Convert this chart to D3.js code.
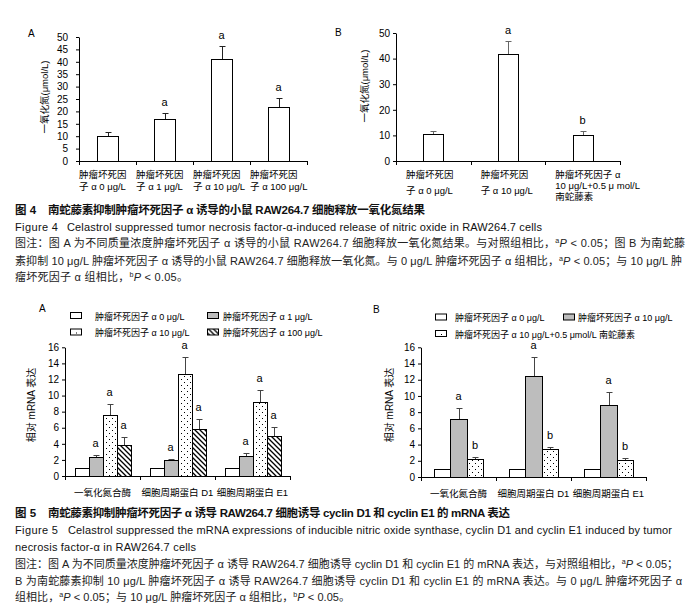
<!DOCTYPE html>
<html><head><meta charset="utf-8">
<script src="https://cdn.jsdelivr.net/npm/d3@7"></script>
<style>
body{margin:0;background:#fff}
svg{display:block}
text{font-family:"Liberation Sans","Noto Sans CJK SC",Arial,sans-serif}
</style>
</head><body>
<svg id="c" width="695" height="614"></svg>
<script>
// ---------------- DATA ----------------
const fig4aCategories = [["肿瘤坏死因","子 α 0 μg/L"],["肿瘤坏死因","子 α 1 μg/L"],["肿瘤坏死因","子 α 10 μg/L"],["肿瘤坏死因","子 α 100 μg/L"]];
const fig4aValues = [10.1, 16.9, 41.1, 21.7];
const fig4aErrors = [1.7, 2.4, 5.4, 3.6];
const fig4aSig = ["", "a", "a", "a"];
const fig4aTicks = [0, 5, 10, 15, 20, 25, 30, 35, 40, 45, 50];

const fig4bCategories = [["肿瘤坏死因","子 α 0 μg/L"],["肿瘤坏死因","子 α 10 μg/L"],["肿瘤坏死因子 α","10 μg/L+0.5  μ mol/L","南蛇藤素"]];
const fig4bValues = [10.4, 41.7, 10.0];
const fig4bErrors = [1.5, 5.2, 1.9];
const fig4bSig = ["", "a", "b"];
const fig4bTicks = [0, 10, 20, 30, 40, 50];

const yLabelNO = "一氧化氮(μmol/L)";
const yLabelMRNA = "相对 mRNA 表达";

const fig5Groups = ["一氧化氮合酶", "细胞周期蛋白 D1", "细胞周期蛋白 E1"];
const fig5Ticks = [0, 2, 4, 6, 8, 10, 12, 14, 16];

const fig5aSeries = ["肿瘤坏死因子 α 0 μg/L", "肿瘤坏死因子 α 1 μg/L", "肿瘤坏死因子 α 10 μg/L", "肿瘤坏死因子 α 100 μg/L"];
const fig5aValues = [[1, 1, 1], [2.4, 2.0, 2.5], [7.6, 12.7, 9.15], [3.85, 5.85, 4.95]];
const fig5aErrors = [[0, 0, 0], [0.25, 0.15, 0.3], [1.3, 2.1, 1.6], [0.95, 1.25, 1.15]];
const fig5aSig = [["", "", ""], ["a", "a", "a"], ["a", "a", "a"], ["a", "a", "a"]];

const fig5bSeries = ["肿瘤坏死因子 α 0 μg/L", "肿瘤坏死因子 α 10 μg/L", "肿瘤坏死因子 α 10 μg/L+0.5 μmol/L 南蛇藤素"];
const fig5bValues = [[1, 1, 1], [7.1, 12.5, 8.9], [2.27, 3.5, 2.1]];
const fig5bErrors = [[0, 0, 0], [1.4, 2.3, 1.55], [0.25, 0.25, 0.3]];
const fig5bSig = [["", "", ""], ["a", "a", "a"], ["b", "b", "b"]];

// caption texts: segments [text, kind]  kind: "" normal, "sup" superscript, "it" italic
const fig4Title = ["图 4", "南蛇藤素抑制肿瘤坏死因子 α 诱导的小鼠 RAW264.7 细胞释放一氧化氮结果"];
const fig4English = ["Figure 4", "Celastrol suppressed tumor necrosis factor-α-induced release of nitric oxide in RAW264.7 cells"];
const fig4Notes = [
  [["图注：图 A 为不同质量浓度肿瘤坏死因子 α 诱导的小鼠 RAW264.7 细胞释放一氧化氮结果。与对照组相比，",""],["a","sup"],["P","it"],[" < 0.05；图 B 为南蛇藤",""]],
  [["素抑制 10 μg/L 肿瘤坏死因子 α 诱导的小鼠 RAW264.7 细胞释放一氧化氮。与 0 μg/L 肿瘤坏死因子 α 组相比，",""],["a","sup"],["P","it"],[" < 0.05；与 10 μg/L 肿",""]],
  [["瘤坏死因子 α 组相比，",""],["b","sup"],["P","it"],[" < 0.05。",""]]
];
const fig5Title = ["图 5", "南蛇藤素抑制肿瘤坏死因子 α 诱导 RAW264.7 细胞诱导 cyclin D1 和 cyclin E1 的 mRNA 表达"];
const fig5English = ["Figure 5", "Celastrol suppressed the mRNA expressions of inducible nitric oxide synthase, cyclin D1 and cyclin E1 induced by tumor", "necrosis factor-α in RAW264.7 cells"];
const fig5Notes = [
  [["图注：图 A 为不同质量浓度肿瘤坏死因子 α 诱导 RAW264.7 细胞诱导 cyclin D1 和 cyclin E1 的 mRNA 表达，与对照组相比，",""],["a","sup"],["P","it"],[" < 0.05；",""]],
  [["B 为南蛇藤素抑制 10 μg/L 肿瘤坏死因子 α 诱导 RAW264.7 细胞诱导 cyclin D1 和 cyclin E1 的 mRNA 表达。与 0 μg/L 肿瘤坏死因子 α",""]],
  [["组相比，",""],["a","sup"],["P","it"],[" < 0.05；与 10 μg/L 肿瘤坏死因子 α 组相比，",""],["b","sup"],["P","it"],[" < 0.05。",""]]
];

// ---------------- DRAWING ----------------
const svg = d3.select("#c");
const defs = svg.append("defs");
const dots = defs.append("pattern").attr("id","dots").attr("patternUnits","userSpaceOnUse").attr("width",6).attr("height",6);
dots.append("rect").attr("width",6).attr("height",6).attr("fill","#fff");
dots.append("rect").attr("x",1).attr("y",1).attr("width",1).attr("height",1).attr("fill","#000");
dots.append("rect").attr("x",4).attr("y",4).attr("width",1).attr("height",1).attr("fill","#000");
const hatch = defs.append("pattern").attr("id","hatch").attr("patternUnits","userSpaceOnUse").attr("width",5).attr("height",5);
hatch.append("rect").attr("width",5).attr("height",5).attr("fill","#fff");
hatch.append("path").attr("d","M-1,-1L6,6M-1,4L1,6M4,-1L6,1").attr("stroke","#000").attr("stroke-width",1.3);

const FF = '"Liberation Sans","Noto Sans CJK SC",Arial,sans-serif';

function yAxis(g, y, x0, ticks, tickSize, tickPad) {
  const ax = g.append("g").attr("transform",`translate(${x0},0)`)
    .call(d3.axisLeft(y).tickValues(ticks).tickSize(tickSize).tickPadding(tickPad).tickSizeOuter(0));
  ax.attr("font-family", FF).attr("font-size", 10);
  ax.selectAll("path,line").attr("stroke","#000");
  ax.selectAll("text").attr("fill","#000");
}

function xAxisLine(g, xb, n, y0) {
  const r = xb.range();
  g.append("line").attr("x1", r[0]).attr("x2", r[1]).attr("y1", y0 + 0.5).attr("y2", y0 + 0.5).attr("stroke","#000");
  const b = d3.range(n + 1).map(i => r[0] + i * xb.step());
  g.selectAll(null).data(b).enter().append("line")
    .attr("x1", d => Math.round(d) + 0.5).attr("x2", d => Math.round(d) + 0.5)
    .attr("y1", y0).attr("y2", y0 + 4).attr("stroke","#000");
}

function yLabel(g, text, x, y, size) {
  g.append("text").attr("transform", `translate(${x},${y}) rotate(-90)`)
    .attr("text-anchor","middle").attr("font-size", size).attr("fill","#000").text(text);
}

function errBar(g, cx, yTop, yErr, color) {
  g.append("line").attr("x1", cx).attr("x2", cx).attr("y1", yTop).attr("y2", yErr).attr("stroke", color);
  g.append("line").attr("x1", cx - 3).attr("x2", cx + 3).attr("y1", yErr + 0.5).attr("y2", yErr + 0.5).attr("stroke", color);
}

function simplePanel(cfg) {
  const g = svg.append("g");
  const y = d3.scaleLinear().domain([0, cfg.max]).range([cfg.y0, cfg.y1]);
  const xb = d3.scaleBand().domain(d3.range(cfg.values.length)).range([cfg.x0, cfg.x1]);
  yAxis(g, y, cfg.x0, cfg.ticks, 3, cfg.tickPad);
  xAxisLine(g, xb, cfg.values.length, cfg.y0);
  cfg.values.forEach((v, i) => {
    const cx = xb(i) + xb.bandwidth() / 2;
    g.append("rect").attr("x", Math.round(cx - cfg.barW / 2) + 0.5).attr("y", Math.round(y(v)) + 0.5)
      .attr("width", cfg.barW).attr("height", Math.round(cfg.y0) - Math.round(y(v)))
      .attr("fill", "#fff").attr("stroke", "#000");
    const top = y(v + cfg.errors[i]);
    errBar(g, Math.round(cx) + 0.5, Math.round(y(v)), Math.round(top), cfg.errColor);
    if (cfg.sig[i]) g.append("text").attr("x", cx).attr("y", top - 7).attr("text-anchor","middle")
      .attr("font-size", 11).attr("fill","#000").text(cfg.sig[i]);
    const lines = cfg.cats[i];
    lines.forEach((t, k) => {
      g.append("text").attr("x", xb(i) + cfg.labelDx).attr("y", cfg.lineY[lines.length === 3 ? 1 : 0][k])
        .attr("font-size", 9.5).attr("fill", "#000").text(t);
    });
  });
  yLabel(g, cfg.yLabel, cfg.yLabX, cfg.yLabY, 9.5);
  g.append("text").attr("x", cfg.letterX).attr("y", cfg.letterY).attr("font-size", 10).attr("fill","#000").text(cfg.letter);
}

function groupedPanel(cfg) {
  const g = svg.append("g");
  const y = d3.scaleLinear().domain([0, 16]).range([cfg.y0, cfg.y1]);
  const xb = d3.scaleBand().domain(d3.range(fig5Groups.length)).range([cfg.x0, cfg.x1]);
  const ns = cfg.values.length;
  const xi = d3.scaleBand().domain(d3.range(ns)).range([-ns * cfg.barW / 2, ns * cfg.barW / 2]);
  yAxis(g, y, cfg.x0, fig5Ticks, 3, 3);
  xAxisLine(g, xb, fig5Groups.length, cfg.y0);
  fig5Groups.forEach((name, gi) => {
    const gc = xb(gi) + xb.bandwidth() / 2;
    for (let s = 0; s < ns; s++) {
      const v = cfg.values[s][gi];
      const bx = gc + xi(s);
      g.append("rect").attr("x", Math.round(bx) + 0.5).attr("y", Math.round(y(v)) + 0.5)
        .attr("width", Math.round(bx + cfg.barW) - Math.round(bx)).attr("height", Math.round(cfg.y0) - Math.round(y(v)))
        .attr("fill", cfg.fills[s]).attr("stroke", "#000");
      const e = cfg.errors[s][gi];
      const top = y(v + e);
      if (e > 0) errBar(g, Math.round(bx + cfg.barW / 2) + 0.5, Math.round(y(v)), Math.round(top), "#444");
      if (cfg.sig[s][gi]) g.append("text").attr("x", bx + cfg.barW / 2).attr("y", top - 8).attr("text-anchor","middle")
        .attr("font-size", 11).attr("fill","#000").text(cfg.sig[s][gi]);
    }
    g.append("text").attr("x", gc).attr("y", cfg.y0 + 20).attr("text-anchor","middle")
      .attr("font-size", 9.5).attr("fill","#000").text(name);
  });
  yLabel(g, yLabelMRNA, cfg.yLabX, cfg.yLabY, 10);
  g.append("text").attr("x", cfg.letterX).attr("y", cfg.letterY).attr("font-size", 10).attr("fill","#000").text(cfg.letter);
  // legend
  cfg.series.forEach((name, s) => {
    const p = cfg.legendPos[s];
    const lg = g.append("g").attr("transform", `translate(${p[0]},${p[1]})`);
    const isDots = cfg.fills[s] === "url(#dots)";
    lg.append("rect").attr("x", 0.5).attr("y", -3.5).attr("width", 11).attr("height", 6)
      .attr("fill", isDots ? "#fff" : cfg.fills[s]).attr("stroke", "#000");
    if (isDots) lg.append("rect").attr("x", 6).attr("y", 0).attr("width", 1).attr("height", 1).attr("fill", "#000");
    lg.append("text").attr("x", p[2]).attr("y", 3.5).attr("font-size", 9).attr("fill", "#000").text(name);
  });
}

simplePanel({
  x0: 79, x1: 307, y0: 161, y1: 37, max: 50, ticks: fig4aTicks, tickPad: 8, barW: 21,
  values: fig4aValues, errors: fig4aErrors, sig: fig4aSig, cats: fig4aCategories, errColor: "#222",
  labelDx: 0, lineY: [[177.6, 189.6], [177.6, 189.6, 201]],
  yLabel: yLabelNO, yLabX: 48, yLabY: 97, letter: "A", letterX: 28, letterY: 36.5
});
simplePanel({
  x0: 396, x1: 620, y0: 161, y1: 33, max: 50, ticks: fig4bTicks, tickPad: 3, barW: 20,
  values: fig4bValues, errors: fig4bErrors, sig: fig4bSig, cats: fig4bCategories, errColor: "#666",
  labelDx: 10, lineY: [[177.6, 193.6], [177.6, 189.3, 200.3]],
  yLabel: yLabelNO, yLabX: 368, yLabY: 86, letter: "B", letterX: 335, letterY: 36
});
groupedPanel({
  x0: 65, x1: 290, y0: 476, y1: 347.3, barW: 14, values: fig5aValues, errors: fig5aErrors, sig: fig5aSig,
  fills: ["#fff", "#bdbdbd", "url(#dots)", "url(#hatch)"], series: fig5aSeries,
  legendPos: [[70, 316, 25], [207, 316, 16], [70, 332.5, 25], [207, 332.5, 16]],
  yLabX: 35, yLabY: 405, letter: "A", letterX: 39, letterY: 312
});
groupedPanel({
  x0: 421, x1: 646, y0: 477, y1: 347.3, barW: 16.5, values: fig5bValues, errors: fig5bErrors, sig: fig5bSig,
  fills: ["#fff", "#bdbdbd", "url(#dots)"], series: fig5bSeries,
  legendPos: [[435, 317.5, 20], [563, 317.5, 15], [435, 334, 20]],
  yLabX: 393, yLabY: 405, letter: "B", letterX: 373, letterY: 313
});

// ---------------- CAPTIONS ----------------
function segLine(x, y, segs, width, size, color, weight) {
  const t = svg.append("text").attr("x", x).attr("y", y).attr("font-size", size).attr("fill", color)
    .attr("font-weight", weight || "normal");
  let down = false;
  segs.forEach(([s, k]) => {
    const ts = t.append("tspan").text(s);
    if (k === "sup") { ts.attr("font-size", size * 0.65).attr("dy", -4); down = true; return; }
    if (down) { ts.attr("dy", 4); down = false; }
    if (k === "it") ts.attr("font-style", "italic");
  });
  if (width) {
    const node = t.node();
    const nat = node.getComputedTextLength();
    const n = node.textContent.length;
    if (n > 1) t.attr("letter-spacing", ((width - nat) / (n - 1)).toFixed(3));
  }
}

// Figure 4 caption
segLine(15, 214, [[fig4Title[0], ""]], null, 11.5, "#111", "bold");
segLine(48, 214, [[fig4Title[1], ""]], 377, 11.5, "#111", "bold");
segLine(15, 230.5, [[fig4English[0], ""]], 43, 11, "#111");
segLine(67, 230.5, [[fig4English[1], ""]], 475, 11, "#111");
const fig4NoteW = [670, 667, 173];
const fig4NoteY = [247, 264.5, 281];
fig4Notes.forEach((segs, i) => segLine(15, fig4NoteY[i], segs, fig4NoteW[i], 11, "#222"));

// Figure 5 caption
segLine(15, 517, [[fig5Title[0], ""]], null, 11.5, "#111", "bold");
segLine(48, 517, [[fig5Title[1], ""]], 462, 11.5, "#111", "bold");
segLine(15, 534, [[fig5English[0], ""]], 43, 11, "#111");
segLine(68, 534, [[fig5English[1], ""]], 604, 11, "#111");
segLine(15, 551, [[fig5English[2], ""]], 181, 11, "#111");
const fig5NoteW = [663, 667, 335];
const fig5NoteY = [567.5, 584.5, 601];
fig5Notes.forEach((segs, i) => segLine(15, fig5NoteY[i], segs, fig5NoteW[i], 11, "#222"));
</script>
</body></html>
